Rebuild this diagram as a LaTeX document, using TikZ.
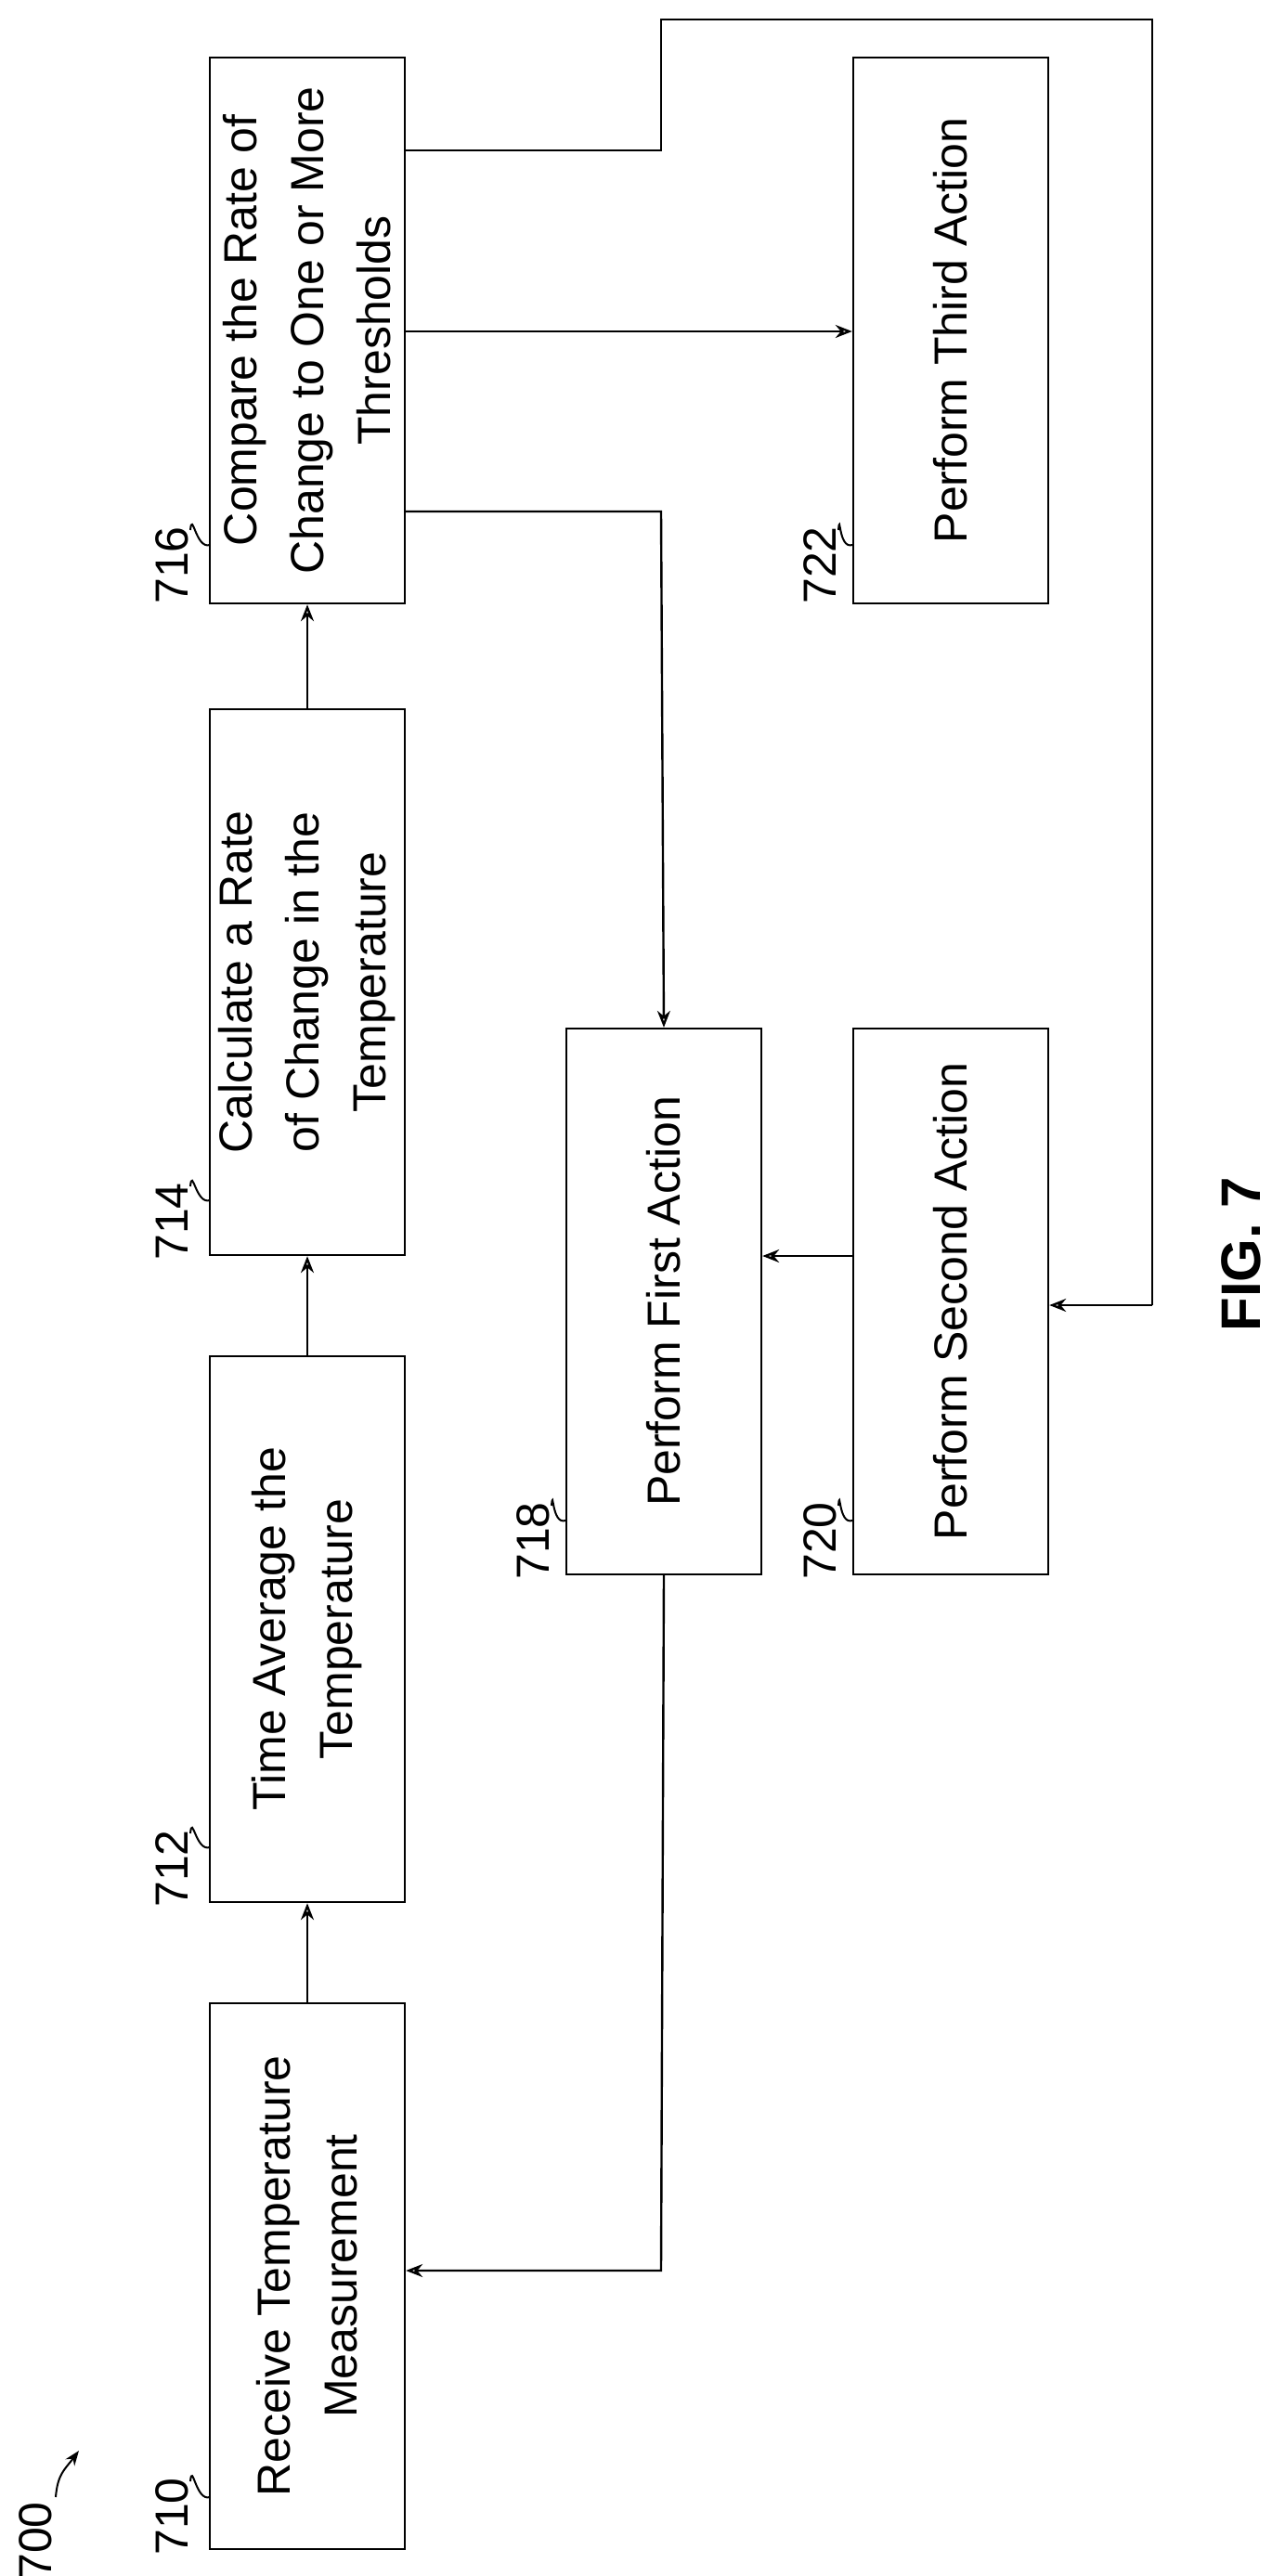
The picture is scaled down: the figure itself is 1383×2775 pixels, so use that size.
\documentclass[tikz,border=0pt]{standalone}
\usepackage{fontspec}
\setmainfont{Liberation Sans}
\usetikzlibrary{arrows.meta}
\begin{document}
\begin{tikzpicture}[x=0.5pt,y=-0.5pt,
 box/.style={draw,line width=1.2pt,minimum width=105pt,minimum height=294pt,inner sep=0pt},
 txt/.style={rotate=90,align=center,font=\fontsize{25}{36}\selectfont},
 lbl/.style={rotate=90,font=\fontsize{25}{30}\selectfont},
 ar/.style={line width=1.2pt,-{Stealth[open,length=9pt,width=7pt]}},
 ln/.style={line width=1.2pt}]
\useasboundingbox (0,0) rectangle (1383,2775);
\node[box] (b710) at (331,2452) {};
\node[box] (b712) at (331,1755) {};
\node[box] (b714) at (331,1058) {};
\node[box] (b716) at (331,356) {};
\node[box] (b718) at (715,1402) {};
\node[box] (b720) at (1024,1402) {};
\node[box] (b722) at (1024,356) {};
\node[txt] (t710) at (b710) {Receive Temperature\\Measurement};
\node[txt] (t712) at (b712) {Time Average the\\Temperature};
\node[txt] (t714) at (b714) {Calculate a Rate\\of Change in the\\Temperature};
\node[txt] (t716) at (b716) {Compare the Rate of\\Change to One or More\\Thresholds};
\node[txt] (t718) at (b718) {Perform First Action};
\node[txt] (t720) at (b720) {Perform Second Action};
\node[txt] (t722) at (b722) {Perform Third Action};
% reference labels
\foreach \n/\x/\y/\bx/\by in {710/185/2711/226/2690,712/185/2013/226/1990,714/185/1316/226/1293,716/185/609/226/587,718/574/1660/609/1638,720/883/1660/918/1638,722/883/609/918/587}{
 \node[lbl] (l\n) at (\x,\y) {\n};
 \draw[line width=1pt] (\x+20,\y-38) .. controls (\x+22,\y-60) and (\bx-15,\by+5) .. (\bx,\by);
}
\node[lbl] (l700) at (38,2737) {700};
\draw[line width=1pt,-{Stealth[length=8pt]}] (60,2690) .. controls (62,2665) and (70,2660) .. (85,2640);
\node[rotate=90,font=\bfseries\fontsize{30}{36}\selectfont] (fig) at (1337,1351) {FIG. 7};
% connectors
\draw[ar] (b710.north) -- (b712.south);
\draw[ar] (b712.north) -- (b714.south);
\draw[ar] (b714.north) -- (b716.south);
\draw[ar] (b716.east |- 0,357) -- (b722.west |- 0,357);
\draw[ar] (b716.east |- 0,551) -- (712,551) -- (b718.north);
\draw[ln] (b716.east |- 0,162) -- (712,162) -- (712,21) -- (1241,21) -- (1241,1406);
\coordinate (c720) at (1241,1406);
\draw[ar] (c720) -- (b720.east |- c720);
\draw[ar] (b720.west |- 0,1353) -- (b718.east |- 0,1353);
\draw[ar] (b718.south) -- (712,2446) -- (b710.east |- 0,2446);
\end{tikzpicture}
\end{document}
